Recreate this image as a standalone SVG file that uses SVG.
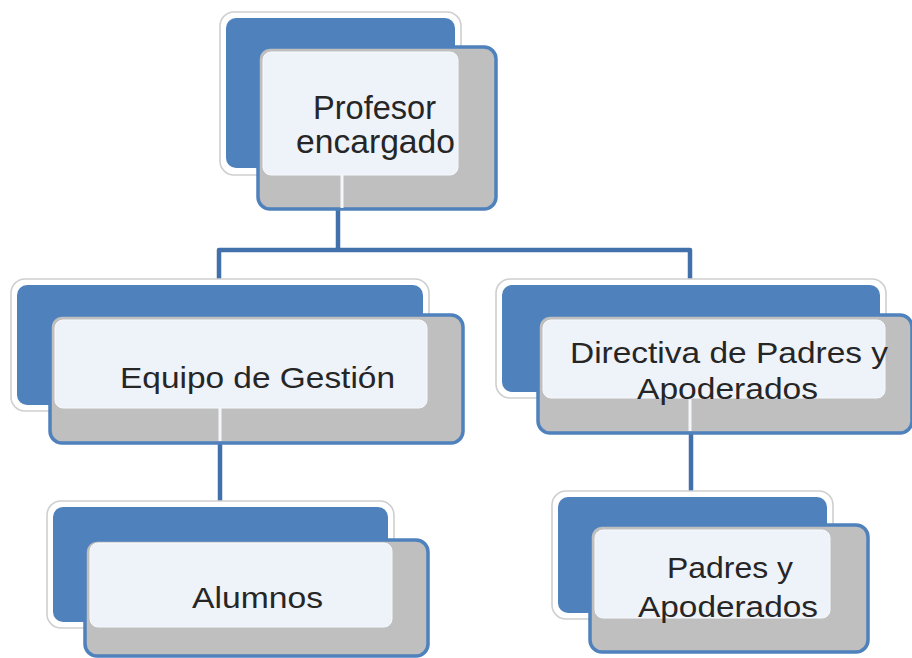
<svg xmlns="http://www.w3.org/2000/svg" width="912" height="658" viewBox="0 0 912 658">
<defs>
<style>
.halo{fill:#ffffff;stroke:#cfcfcf;stroke-width:1.6}
.blue{fill:#4f81bd}
.back{fill:#bfbfbf;stroke:#4f81bd;stroke-width:3.5}
.panel{fill:#eef2f9;stroke:#f7f9fc;stroke-width:1}
.gap{stroke:#f4f6fa;stroke-width:3}
.lbl{font-family:"Liberation Sans",Arial,sans-serif;fill:#262626}
.conn{fill:none;stroke:#4170ab;stroke-width:4.5;stroke-linejoin:round}
</style>
</defs>
<rect width="912" height="658" fill="#ffffff"/>
<g id="connectors">
<path class="conn" d="M338 208 V250 M219 282 V250 H690 V281"/>
<path class="conn" d="M220 441 V502"/>
<path class="conn" d="M691 431 V492"/>
</g>
<g id="node-profesor">
<rect class="halo" x="220" y="12" width="241" height="163" rx="14"/>
<rect class="blue" x="226" y="18" width="229" height="150" rx="10"/>
<rect class="back" x="258" y="47" width="238" height="162" rx="12"/>
<rect class="panel" x="263" y="52" width="195" height="123" rx="8"/>
<line class="gap" x1="342" y1="175" x2="342" y2="208"/>
<text class="lbl" font-size="33" x="313" y="119" textLength="123" lengthAdjust="spacingAndGlyphs">Profesor</text>
<text class="lbl" font-size="33" x="296" y="153" textLength="159" lengthAdjust="spacingAndGlyphs">encargado</text>
</g>
<g id="node-equipo">
<rect class="halo" x="11" y="279" width="418" height="132" rx="14"/>
<rect class="blue" x="17" y="285" width="406" height="120" rx="10"/>
<rect class="back" x="50" y="315" width="413" height="128" rx="12"/>
<rect class="panel" x="55" y="320" width="372" height="88" rx="8"/>
<line class="gap" x1="220" y1="408" x2="220" y2="441"/>
<text class="lbl" font-size="30" x="120" y="388" textLength="275" lengthAdjust="spacingAndGlyphs">Equipo de Gestión</text>
</g>
<g id="node-directiva">
<rect class="halo" x="496" y="279" width="390" height="119" rx="14"/>
<rect class="blue" x="502" y="285" width="378" height="107" rx="10"/>
<rect class="back" x="538" y="315" width="374" height="118" rx="12"/>
<rect class="panel" x="543" y="320" width="342" height="78" rx="8"/>
<line class="gap" x1="690" y1="398" x2="690" y2="431"/>
<text class="lbl" font-size="30" x="570" y="363" textLength="318" lengthAdjust="spacingAndGlyphs">Directiva de Padres y</text>
<text class="lbl" font-size="30" x="637" y="399" textLength="181" lengthAdjust="spacingAndGlyphs">Apoderados</text>
</g>
<g id="node-alumnos">
<rect class="halo" x="47" y="501" width="347" height="127" rx="14"/>
<rect class="blue" x="53" y="507" width="335" height="115" rx="10"/>
<rect class="back" x="85" y="540" width="343" height="116" rx="12"/>
<rect class="panel" x="90" y="543" width="302" height="84" rx="8"/>
<text class="lbl" font-size="30" x="192" y="608" textLength="131" lengthAdjust="spacingAndGlyphs">Alumnos</text>
</g>
<g id="node-padres">
<rect class="halo" x="552" y="491" width="281" height="128" rx="14"/>
<rect class="blue" x="558" y="497" width="269" height="116" rx="10"/>
<rect class="back" x="590" y="525" width="278" height="127" rx="12"/>
<rect class="panel" x="595" y="530" width="235" height="88" rx="8"/>
<text class="lbl" font-size="30" x="667" y="578" textLength="126" lengthAdjust="spacingAndGlyphs">Padres y</text>
<text class="lbl" font-size="30" x="638" y="617" textLength="180" lengthAdjust="spacingAndGlyphs">Apoderados</text>
</g>
</svg>
